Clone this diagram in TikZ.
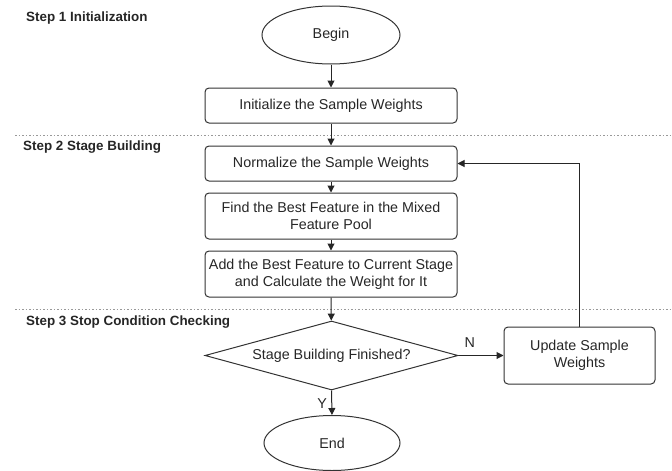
\documentclass[tikz,border=0pt]{standalone}
\usepackage{fontspec}
\setmainfont{Liberation Sans}
\usetikzlibrary{shapes.geometric,arrows.meta}
\begin{document}
\begin{tikzpicture}[x=1pt,y=-1pt,
  every node/.style={font=\fontsize{14.3pt}{17pt}\selectfont, text=black!85},
  box/.style={draw=black!80, line width=1pt, rounded corners=4pt, align=center, inner sep=0pt},
  oval/.style={draw=black!80, line width=1pt, ellipse, inner sep=0pt},
  decision/.style={draw=black!80, line width=1pt, diamond, shape aspect=3.67, inner sep=0pt, minimum width=253pt, minimum height=69pt},
  steplabel/.style={anchor=west, font=\fontsize{13.4pt}{16pt}\selectfont\bfseries, inner sep=0pt},
  flow/.style={draw=black!85, line width=1pt, -{Triangle[length=7pt,width=7pt]}},
  sep/.style={draw=black!40, line width=0.8pt, dash pattern=on 1.5pt off 2pt}
]
\useasboundingbox (0,0) rectangle (672,471);

\node[steplabel] (s1) at (26,18) {Step 1 Initialization};
\node[steplabel] (s2) at (23,147) {Step 2 Stage Building};
\node[steplabel] (s3) at (26,322) {Step 3 Stop Condition Checking};

\coordinate (l1a) at (15,135); \coordinate (l1b) at (672,135);
\coordinate (l2a) at (15,309); \coordinate (l2b) at (672,309);
\draw[sep] (l1a) -- (l1b);
\draw[sep] (l2a) -- (l2b);

\node[oval, minimum width=138pt, minimum height=58pt] (begin) at (331,35) {Begin};
\node[box, minimum width=252pt, minimum height=35pt] (init) at (331,105.5) {Initialize the Sample Weights};
\node[box, minimum width=252pt, minimum height=35pt] (norm) at (331,163.5) {Normalize the Sample Weights};
\node[box, minimum width=252pt, minimum height=46pt] (find) at (331,216) {Find the Best Feature in the Mixed\\Feature Pool};
\node[box, minimum width=252pt, minimum height=46pt] (add) at (331,274) {Add the Best Feature to Current Stage\\and Calculate the Weight for It};
\node[decision] (dec) at (331.5,355.5) {Stage Building Finished?};
\node[box, minimum width=151pt, minimum height=57pt] (upd) at (579.5,355.5) {Update Sample\\Weights};
\node[oval, minimum width=136pt, minimum height=55pt] (end) at (332,443) {End};

\draw[flow] (begin) -- (init);
\draw[flow] (init) -- (norm);
\draw[flow] (norm) -- (find);
\draw[flow] (find) -- (add);
\draw[flow] (add) -- (dec);
\draw[flow] (dec.east) -- node[above=4pt, pos=0.25] (nlab) {N} (upd.west);
\draw[flow] (dec.south) -- node[left=1pt, pos=0.55] (ylab) {Y} (end.north);
\draw[flow] (upd.north) |- (norm.east);
\end{tikzpicture}
\end{document}
